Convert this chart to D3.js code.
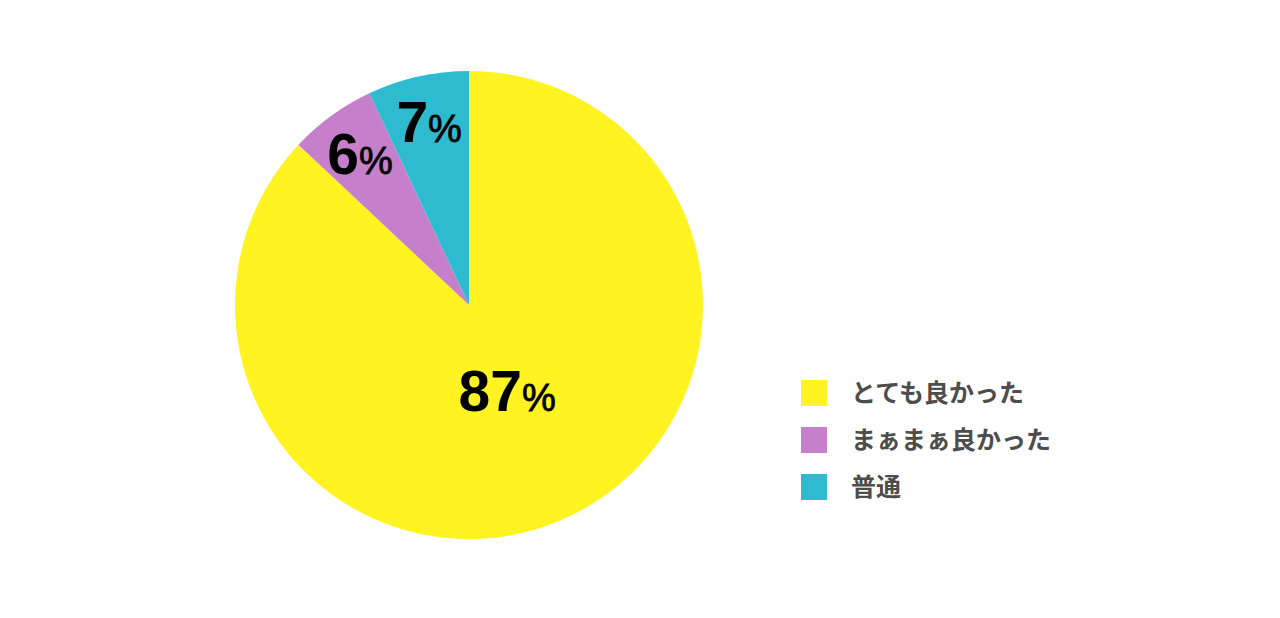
<!DOCTYPE html>
<html>
<head>
<meta charset="utf-8">
<script src="https://cdn.jsdelivr.net/npm/d3@7"></script>
<style>
  body { margin: 0; background: #fff; }
  svg { display: block; }
</style>
</head>
<body>
<div id="wrapper"></div>
<script>
const categories = ["とても良かった", "まぁまぁ良かった", "普通"]
const values = [87, 6, 7]
const colors = ["#fff321", "#c67fcb", "#2ebbd0"]

const width = 1280
const height = 618
const center = { x: 469, y: 305 }
const radius = 234

const svg = d3.select("#wrapper")
  .append("svg")
  .attr("width", width)
  .attr("height", height)

const data = categories.map((c, i) => ({ name: c, value: values[i], color: colors[i] }))

const pie = d3.pie()
  .sort(null)
  .value(d => d.value)

const arcs = pie(data)

const arc = d3.arc().innerRadius(0).outerRadius(radius)

const pieG = svg.append("g")
  .attr("transform", `translate(${center.x},${center.y})`)

pieG.selectAll(".slice")
  .data(arcs)
  .enter().append("path")
  .attr("class", "slice")
  .attr("d", arc)
  .attr("fill", d => d.data.color)

// big slice label sits nearer the middle, small ones near the rim
const labelArc = d => {
  const r = d.data.value > 50 ? radius * 0.4 : radius * 0.8
  return d3.arc().innerRadius(r).outerRadius(r).centroid(d)
}

const labels = pieG.selectAll(".label")
  .data(arcs)
  .enter().append("text")
  .attr("class", "label")
  .attr("transform", d => {
    const [x, y] = labelArc(d)
    return `translate(${x + 1},${y + 20})`
  })
  .attr("text-anchor", "middle")
  .style("font-family", "'Liberation Sans', Arial, sans-serif")
  .style("font-weight", "bold")
  .style("fill", "#000")

labels.append("tspan")
  .style("font-size", "57px")
  .text(d => d.data.value)

labels.append("tspan")
  .style("font-size", "38px")
  .style("font-weight", "normal")
  .style("stroke", "#000")
  .style("stroke-width", 0.8)
  .text("%")

// legend
const legend = svg.append("g")
  .attr("transform", "translate(801,380)")

const item = legend.selectAll(".item")
  .data(data)
  .enter().append("g")
  .attr("class", "item")
  .attr("transform", (d, i) => `translate(0,${i * 47})`)

item.append("rect")
  .attr("width", 26)
  .attr("height", 26)
  .attr("fill", d => d.color)

item.append("text")
  .attr("x", 50)
  .attr("y", 13)
  .attr("dy", "0.36em")
  .style("font-family", "'Noto Sans CJK JP', sans-serif")
  .style("font-weight", "bold")
  .style("font-size", "25px")
  .style("fill", "#4d4d4d")
  .text(d => d.name)
</script>
</body>
</html>
